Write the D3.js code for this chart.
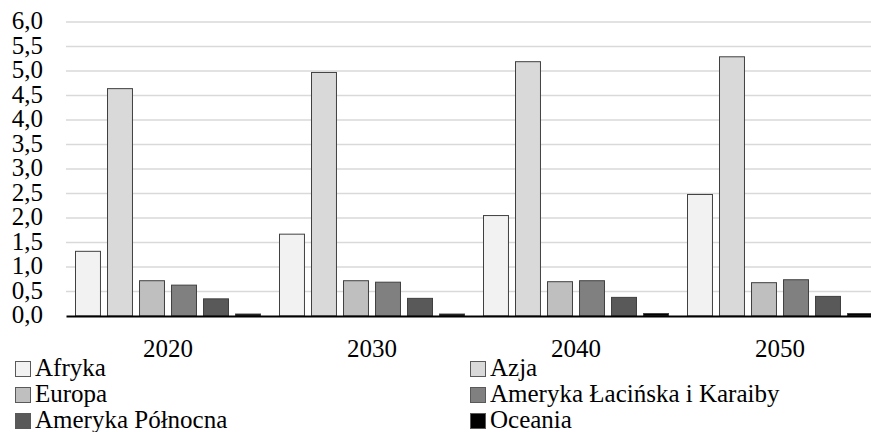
<!DOCTYPE html>
<html>
<head>
<meta charset="utf-8">
<script src="https://cdn.jsdelivr.net/npm/d3@7"></script>
</head>
<body style="margin:0">
<svg id="chart" width="871" height="432"></svg>
<script>
// Years on the category axis
const years = ["2020", "2030", "2040", "2050"];

// Regions (series) and their fill shades
const regions = ["Afryka", "Azja", "Europa", "Ameryka Łacińska i Karaiby", "Ameryka Północna", "Oceania"];
const shades = ["#f2f2f2", "#d9d9d9", "#bfbfbf", "#808080", "#595959", "#000000"];

// Population (billions) per region, one value per year
const afryka   = [1.32, 1.67, 2.05, 2.48];
const azja     = [4.64, 4.97, 5.19, 5.29];
const europa   = [0.72, 0.72, 0.70, 0.68];
const amLac    = [0.63, 0.69, 0.72, 0.74];
const amPoln   = [0.35, 0.36, 0.38, 0.40];
const oceania  = [0.04, 0.04, 0.05, 0.05];
const seriesValues = [afryka, azja, europa, amLac, amPoln, oceania];

// Y axis tick values
const yTicks = [0, 0.5, 1, 1.5, 2, 2.5, 3, 3.5, 4, 4.5, 5, 5.5, 6];

const svg = d3.select("#chart");
const plot = { left: 66, right: 882, top: 22, bottom: 316 };

const y = d3.scaleLinear().domain([0, 6]).range([plot.bottom, plot.top]);
const x0 = d3.scaleBand().domain(years).range([plot.left, plot.right]).padding(0);
const x1 = d3.scaleBand().domain(regions)
  .range([9.5, x0.bandwidth() - 9.5])
  .paddingInner(0.22).paddingOuter(0);

const pl = d3.formatLocale({ decimal: ",", thousands: " ", grouping: [3], currency: ["", " zł"] });
const fmt = pl.format(".1f");

// Horizontal gridlines
svg.append("g")
  .selectAll("line")
  .data(yTicks.filter(d => d > 0))
  .join("line")
  .attr("x1", plot.left).attr("x2", plot.right)
  .attr("y1", d => y(d)).attr("y2", d => y(d))
  .attr("stroke", "#d9d9d9")
  .attr("stroke-width", 1.5);

// Bars
const groups = svg.append("g")
  .selectAll("g")
  .data(years)
  .join("g")
  .attr("transform", d => `translate(${x0(d)},0)`);

groups.selectAll("rect")
  .data((yr, i) => regions.map((r, k) => ({ region: r, k, value: seriesValues[k][i] })))
  .join("rect")
  .attr("x", d => x1(d.region))
  .attr("width", x1.bandwidth())
  .attr("y", d => y(d.value))
  .attr("height", d => y(0) - y(d.value))
  .attr("fill", d => shades[d.k])
  .attr("stroke", "#404040")
  .attr("stroke-width", 1);

// Y axis labels
const yAxis = svg.append("g")
  .attr("transform", `translate(${plot.left},0)`)
  .call(d3.axisLeft(y).tickValues(yTicks).tickFormat(fmt).tickSize(0).tickPadding(23));
yAxis.select(".domain").remove();
yAxis.attr("font-family", "Times New Roman").attr("font-size", 25);
yAxis.selectAll("text")
  .attr("fill", "#000")
  .attr("dy", "0.26em");

// X axis with baseline
const xAxis = svg.append("g")
  .attr("transform", `translate(0,${plot.bottom})`)
  .call(d3.axisBottom(x0).tickSize(0).tickPadding(23));
xAxis.attr("font-family", "Times New Roman").attr("font-size", 25);
xAxis.select(".domain")
  .attr("stroke", "#000")
  .attr("stroke-width", 2);
xAxis.selectAll("text")
  .attr("fill", "#000");

// Legend: two columns, three rows
const legendCols = [15, 470];
const legendRowY = [376, 402, 428];
const legend = svg.append("g")
  .attr("font-family", "Times New Roman")
  .attr("font-size", 25)
  .selectAll("g")
  .data(regions)
  .join("g")
  .attr("transform", (d, i) => `translate(${legendCols[i % 2]},${legendRowY[Math.floor(i / 2)]})`);

legend.append("rect")
  .attr("x", 0.5).attr("y", -14.5)
  .attr("width", 15).attr("height", 15)
  .attr("fill", (d, i) => shades[i])
  .attr("stroke", "#595959")
  .attr("stroke-width", 1);

legend.append("text")
  .attr("x", 20).attr("y", 0)
  .attr("fill", "#000")
  .text(d => d);
</script>
</body>
</html>
